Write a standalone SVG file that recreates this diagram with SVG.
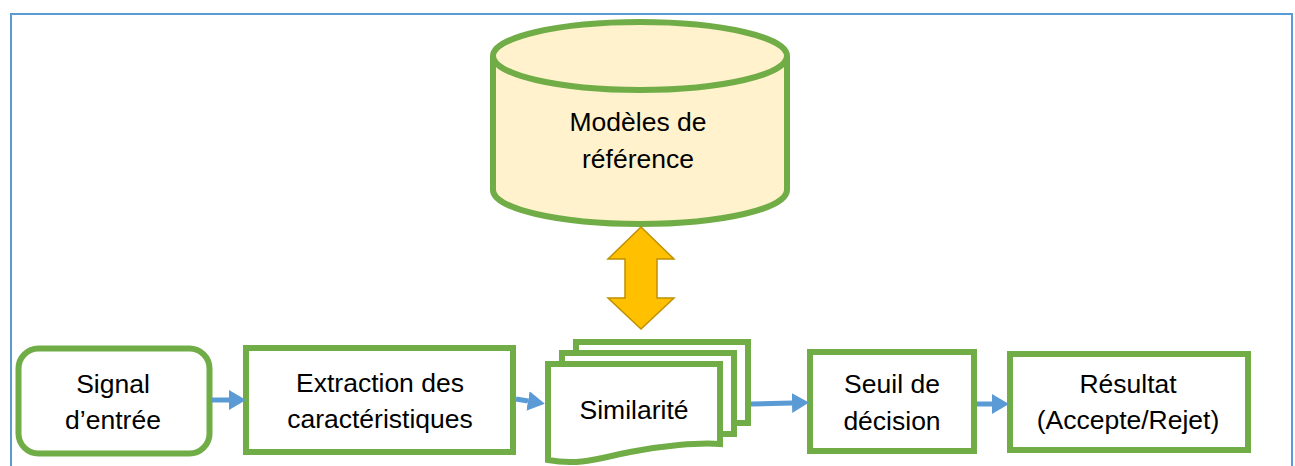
<svg xmlns="http://www.w3.org/2000/svg" width="1295" height="466" viewBox="0 0 1295 466">
<style>
.box{fill:#FFFFFF;stroke:#70AD47;stroke-width:6}
.lbl{font-family:"Liberation Sans",Arial,sans-serif;font-size:26.5px;fill:#000000;text-anchor:middle}
.conn{stroke:#5B9BD5;stroke-width:5;fill:none}
</style>
<defs>
<marker id="ah" viewBox="0 0 17 20" refX="0" refY="10" markerWidth="17" markerHeight="20" markerUnits="userSpaceOnUse" orient="auto">
<path d="M0,0 L17,10 L0,20 Z" fill="#5B9BD5"/>
</marker>
</defs>
<rect x="11" y="14" width="1281" height="470" fill="#FFFFFF" stroke="#5B9BD5" stroke-width="2"/>

<g id="modeles">
<path d="M493,56 A147,34 0 0 1 787,56 V190 A147,34 0 0 1 493,190 Z" fill="#FFF2CC" stroke="#70AD47" stroke-width="6"/>
<path d="M493,56 A147,34 0 0 0 787,56" fill="none" stroke="#70AD47" stroke-width="6"/>
<text class="lbl" x="638" y="131">Modèles de</text>
<text class="lbl" x="638" y="168">référence</text>
</g>

<g id="double-arrow">
<polygon points="641,227 674,259 657,259 657,298 674,298 641,329 608,298 625,298 625,259 608,259" fill="#FFC000" stroke="#BF9000" stroke-width="1.5" stroke-linejoin="miter"/>
</g>

<g id="signal">
<rect class="box" x="18.5" y="348.5" width="191" height="105" rx="20"/>
<text class="lbl" x="113" y="393">Signal</text>
<text class="lbl" x="113" y="429">d’entrée</text>
</g>

<g id="extraction">
<rect class="box" x="246" y="348" width="267" height="104"/>
<text class="lbl" x="380" y="392">Extraction des</text>
<text class="lbl" x="380" y="428">caractéristiques</text>
</g>

<g id="similarite">
<rect class="box" x="576" y="342" width="172" height="81"/>
<rect class="box" x="562" y="353" width="172" height="81"/>
<path class="box" d="M548,364 H720 V444 C700,442 660,446 630,452 C600,458 580,466 548,460 Z"/>
<text class="lbl" x="634" y="419">Similarité</text>
</g>

<g id="seuil">
<rect class="box" x="810" y="352" width="164" height="99"/>
<text class="lbl" x="892" y="393">Seuil de</text>
<text class="lbl" x="892" y="430">décision</text>
</g>

<g id="resultat">
<rect class="box" x="1010" y="354" width="238" height="96"/>
<text class="lbl" x="1128" y="393">Résultat</text>
<text class="lbl" x="1128" y="429">(Accepte/Rejet)</text>
</g>

<g id="connectors">
<line class="conn" x1="212" y1="400" x2="229" y2="400" marker-end="url(#ah)"/>
<line class="conn" x1="516" y1="399" x2="528" y2="401" marker-end="url(#ah)"/>
<line class="conn" x1="751" y1="404" x2="792" y2="403" marker-end="url(#ah)"/>
<line class="conn" x1="977" y1="404" x2="992" y2="404" marker-end="url(#ah)"/>
</g>
</svg>
